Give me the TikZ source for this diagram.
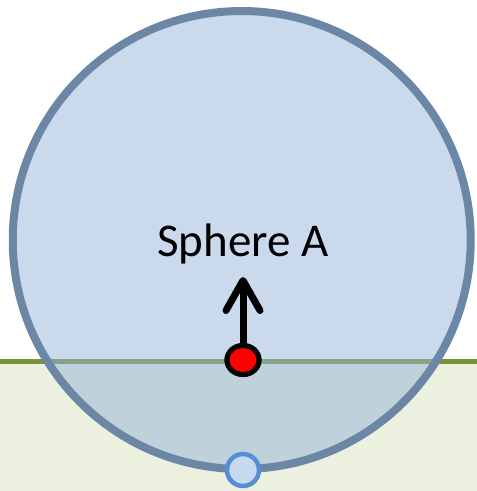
\documentclass[tikz,border=0pt]{standalone}
\usepackage{fontspec}
\setmainfont{Carlito}
\usetikzlibrary{arrows.meta,shapes.geometric}
\definecolor{groundfill}{HTML}{EBF1DE}
\definecolor{groundline}{HTML}{77933C}
\definecolor{spherefill}{HTML}{95B3D7}
\definecolor{spherestroke}{HTML}{6C87A6}
\definecolor{pointfill}{HTML}{C6D9F1}
\definecolor{pointstroke}{HTML}{558ED5}
\tikzset{
  sphere/.style={circle, minimum size=458pt, inner sep=0pt},
  groundln/.style={draw=groundline, line width=5pt},
  redpt/.style={ellipse, draw=black, fill=red, line width=5pt, minimum width=32pt, minimum height=29pt, inner sep=0pt},
  contact/.style={circle, draw=pointstroke, fill=pointfill, line width=4.5pt, minimum size=32pt, inner sep=0pt},
  force/.style={line width=7pt, -{Straight Barb[length=30pt, width=34pt, line width=7pt, round]}},
  label/.style={font=\fontsize{47pt}{50pt}\selectfont, inner sep=0pt}
}
\begin{document}
\begin{tikzpicture}[x=1pt,y=-1pt]
\useasboundingbox (0,0) rectangle (477,491);
\fill[groundfill] (0,361.5) rectangle (477,491);
\coordinate (gl) at (0,361.5);
\coordinate (gr) at (477,361.5);
\draw[groundln] (gl) -- (gr);
\node[sphere, fill=spherefill, fill opacity=0.5] (s) at (241.75,240) {};
\node[sphere, draw=spherestroke, line width=8pt] at (241.75,240) {};
\node[label, anchor=base] (t) at (243,256) {Sphere A};
\coordinate (tip) at (243,277);
\node[redpt] (r) at (243,360) {};
\draw[force] (r.center) -- (tip);
\node[redpt] at (243,360) {};
\node[contact] (c) at (243,470) {};
\end{tikzpicture}
\end{document}
